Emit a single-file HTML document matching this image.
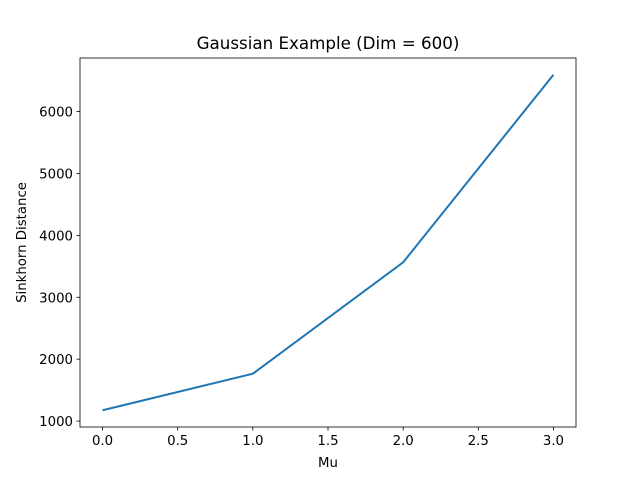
<!DOCTYPE html>
<html><head><meta charset="utf-8"><style>body{margin:0;background:#fff}svg{display:block;font-family:"DejaVu Sans","Liberation Sans",sans-serif}</style></head>
<body>
<svg id="chart" width="640" height="480" xmlns="http://www.w3.org/2000/svg"></svg>
<script>
const muValues = [0, 1, 2, 3];
const sinkhornValues = [1175, 1765, 3565, 6595];
const xTicks = [0, 0.5, 1, 1.5, 2, 2.5, 3];
const xTickLabels = ["0.0","0.5","1.0","1.5","2.0","2.5","3.0"];
const yTicks = [1000, 2000, 3000, 4000, 5000, 6000];
const yTickLabels = ["1000","2000","3000","4000","5000","6000"];

const L=80,R=576,T=58,B=427;
const xMin=-0.15,xMax=3.15;
const yMin=Math.min(...sinkhornValues)-0.05*(Math.max(...sinkhornValues)-Math.min(...sinkhornValues));
const yMax=Math.max(...sinkhornValues)+0.05*(Math.max(...sinkhornValues)-Math.min(...sinkhornValues));
const xs=v=>L+(v-xMin)/(xMax-xMin)*(R-L);
const ys=v=>B-(v-yMin)/(yMax-yMin)*(B-T);
const svg=document.getElementById('chart');
const NS="http://www.w3.org/2000/svg";
function mk(tag,attrs,parent){const e=document.createElementNS(NS,tag);for(const k in attrs)e.setAttribute(k,attrs[k]);(parent||svg).appendChild(e);return e;}

const frame=mk('rect',{x:L,y:T,width:R-L,height:B-T,fill:'none',stroke:'#000','stroke-width':0.8});



xTicks.forEach((t,i)=>{
  const x=xs(t);
  const tk=mk('line',{x1:x,x2:x,y1:B,y2:B+3.5,stroke:'#000','stroke-width':0.8});
  
  
  const tx=mk('text',{x:x,y:B+18,'font-size':13.3,'text-anchor':'middle',fill:'#000'});
  tx.textContent=xTickLabels[i];
  
  
});
yTicks.forEach((t,i)=>{
  const y=ys(t);
  const tk=mk('line',{x1:L-3.5,x2:L,y1:y,y2:y,stroke:'#000','stroke-width':0.8});
  
  
  const tx=mk('text',{x:L-7,y:y+5,'font-size':13.3,'text-anchor':'end',fill:'#000'});
  tx.textContent=yTickLabels[i];
  
  
});

const line=mk('polyline',{points:muValues.map((m,i)=>xs(m)+','+ys(sinkhornValues[i])).join(' '),fill:'none',stroke:'#1f77b4','stroke-width':2});



const title=mk('text',{x:(L+R)/2,y:T-9,'font-size':16.7,'text-anchor':'middle',fill:'#000'});
title.textContent='Gaussian Example (Dim = 600)';


const xl=mk('text',{x:(L+R)/2,y:467,'font-size':13.3,'text-anchor':'middle',fill:'#000'});
xl.textContent='Mu';


const yl=mk('text',{x:0,y:0,'font-size':13.3,'text-anchor':'middle',fill:'#000',transform:`translate(26,${(T+B)/2}) rotate(-90)`});
yl.textContent='Sinkhorn Distance';


</script>
</body></html>
